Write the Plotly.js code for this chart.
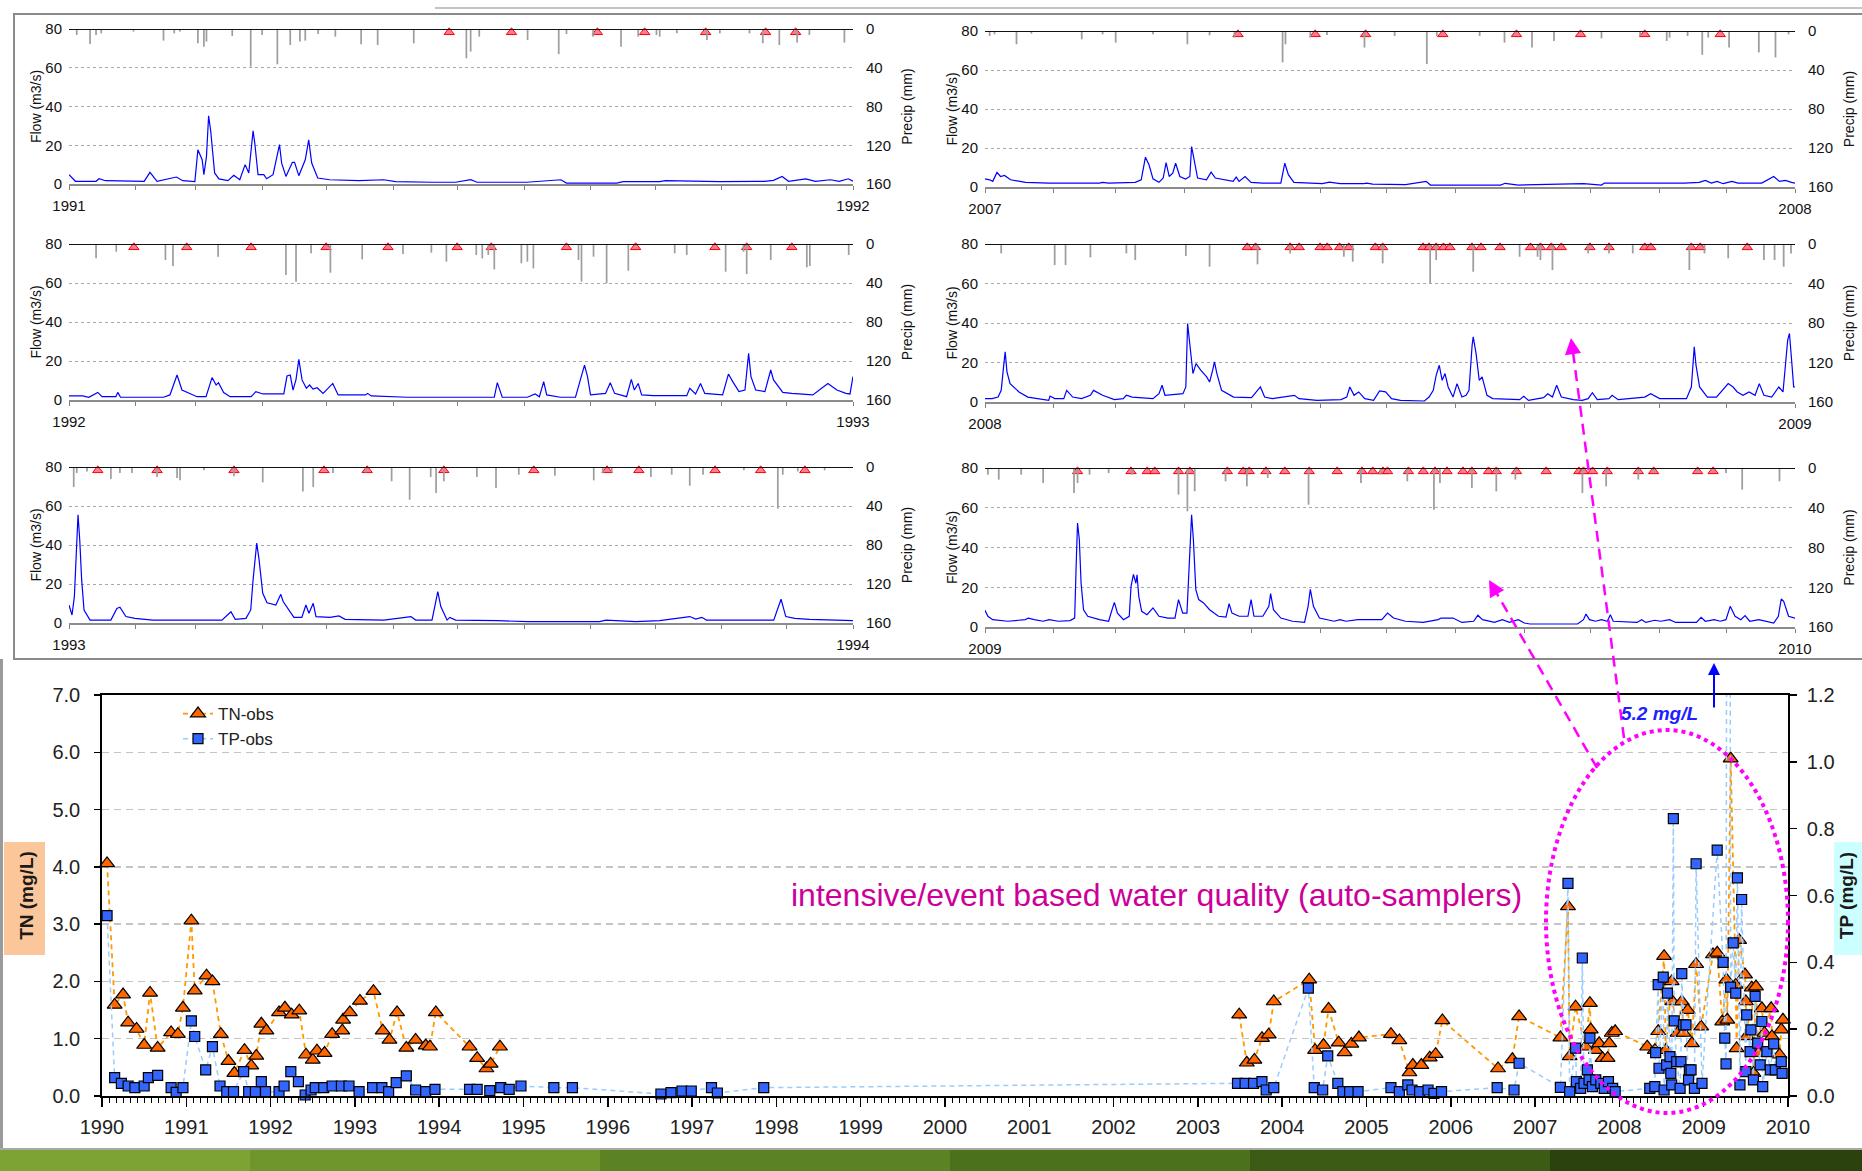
<!DOCTYPE html>
<html><head><meta charset="utf-8">
<script src="https://cdn.plot.ly/plotly-3.0.1.min.js"></script>
<style>html,body{margin:0;padding:0;background:#fff;} #chart{width:1862px;height:1171px;}</style>
</head><body><div id="chart"></div>
<script>
// ---------------- DATA: daily flow / precipitation panels (day of year) ----------------
const monthStarts = [31,59,90,120,151,181,212,243,273,304,334];

const flow1991Day = [0,3,12.6,14,17,35,37.7,41,50,53,58.6,60,62,62.8,64,65,66,67.8,69.8,74,76.7,79.5,82,83.7,85.7,86.5,88,90.7,92,95,98,99,101,104,105,107,110,111.6,113,115.8,121.4,135,146.5,152,169,180,187,190,213,229,231.6,255,258,275,277.7,303,319.6,323.7,328,332,335,343,347.5,354.5,358.6,362.8,365];
const flow1991 = [4.8,1.4,1.4,2.7,1.7,1.4,6.0,1.4,3.6,1.7,1.2,17.7,12.5,4.8,14.2,35.2,27.1,5.7,2.6,1.7,4.5,2.2,10,5.7,27.5,21,4.8,4.8,2.7,4.8,20.3,10.8,3.9,11.2,11.2,4.3,12.5,22.8,10.8,3.1,2.2,1.7,2.2,1.2,0.9,0.9,2.2,0.9,0.9,2.2,0.5,0.5,1.2,1.2,1.7,1.2,1.4,1.4,1.9,3.9,1.4,2.6,1.4,2.2,1.4,2.7,1.4];
const precip1991Day = [3.6,9.8,12.6,15,30,44,49,51.6,60,62.8,64,76,84.6,89.9,97,103,107.5,110,116,124,136,143.7,160.5,185,187,191,213.5,228,231.6,244,257,265,273.5,275,283,297,303,316.8,323,330.7,339,344.7,361];
const precip1991 = [6.2,15.5,6.2,4.5,2.7,12,4.5,2.7,14.8,18.2,13,7.2,38.8,6.2,36.4,16.5,13,12,5.1,7.9,15.8,16.5,14.8,30.2,23.3,7.9,11.3,26,5.1,7.9,18.2,7.9,6.2,7.9,4.5,11.3,4.5,4.5,14.8,16.5,14,6.2,14];
const samples1991 = [177,206,246,268,296.4,324.3,338.3];

const flow1992Day = [0,6.4,9.2,13.4,15.4,21.8,22.7,24,44,47,50.3,52.6,59.6,63.8,66.6,68.5,69.6,72,75,84.8,87,90.3,100,101.5,103,104.3,105.7,107,108.5,110.5,112,113.6,115.5,118.3,122.8,125.3,138,139,140.7,157.5,180,198,199.4,201.7,213.4,217,219,221,222.4,228.8,235.8,240,241.4,242.8,249.8,252,254,259.6,261.8,263.2,265,266.6,272,287.6,289,291.7,294,296,304.3,307,309,311.9,314.7,316.4,317.5,319.7,324,326.7,328,332.3,336.5,346.3,353.3,357.5,361.7,363.6,365];
const flow1992 = [2.1,2.1,1.4,3.9,1.7,1.7,3.9,1.4,1.4,2.6,12.8,5.1,1.7,1.7,11.5,7.7,8.9,3.8,1.7,1.7,4.3,3.1,3.1,12.3,12.8,5.1,10.6,20.8,10.3,6,7.7,5.6,6.3,3.4,8.5,2.6,2.6,3.4,2.1,1.4,1.4,1.4,8.9,1.4,1.4,3.1,1.7,9.4,2.6,1.4,1.4,17.9,12,2.6,3.4,8.9,3.4,1.7,10.6,5.1,8.5,2.6,2.2,2.2,6,3.1,8.5,3.4,2.6,13.3,9.4,4.3,5.1,23.9,12,5.1,4.3,15.4,10.3,3.9,3.4,2.6,8.5,5.1,3.4,3.1,12];
const precip1992Day = [12.6,22,44.9,48.4,54,69.4,101,105.7,112.7,121.7,136.5,155.5,168.7,175.7,189.6,192.4,195.2,198,210.6,213.4,216.2,237.2,238.6,244.2,250.3,260.4,282,287.6,305.7,314,315.5,326.7,343.5,344.9,363];
const precip1992 = [14.7,7.9,16.4,22.6,4.4,13,31.8,38.6,9.6,29.4,15.7,10.3,8.9,18.1,11.3,14.7,11.3,26,19.8,18.1,25,16.4,38.6,13,40.3,27.4,9.6,11.3,28.4,7.9,30.8,16.4,23.9,22.6,11.3];
const samples1992 = [30.2,54.8,84.8,119.7,148.5,180.7,196.6,231.6,263.8,300.7,315.5,336.5];

const flow1993Day = [0,1.4,2.5,3.4,4.2,5,5.9,7,9.8,19.5,22.3,23.7,26.5,30.7,39,60,71.2,75.4,77.4,82.4,84.6,85.7,87.4,88.5,90.2,92.2,96.3,98.6,99.7,104.7,108.4,110.3,111.7,113.7,115,121.5,125.7,128.5,146.6,159.2,161.4,169,171.7,173.1,176,177.3,180,199.7,213.6,247,250,263.9,275,289,291.8,294.6,296.8,328.1,331.5,333.7,337.9,344.9,365];
const flow1993 = [9.2,4.1,13.5,37.5,55.5,42.6,22.1,6.7,1.5,1.5,7.5,8.1,3.3,2.4,1.5,1.5,1.5,5.8,1.9,2.4,6.7,22.1,41,32.4,15.2,10.4,9.2,14.7,11,2.9,2.9,9.2,5,10.1,3.3,2.9,3.6,1.9,1.5,3.3,1.5,1.5,16.1,8.4,1.5,2.9,1.5,1.2,0.7,0.7,1.5,0.7,1.2,3.3,2,2.9,1.5,1.5,12.2,3.3,2.4,1.9,1.2];
const precip1993Day = [2.2,3.6,8.4,19.5,23.7,29.3,41,50.3,51.7,62.8,76.8,90.2,108.9,113.7,122.9,138.2,150.2,158.6,168.4,170.9,174.5,189.9,198.8,209.4,226.2,244.3,248.5,252.7,270.9,280.6,289,295.2,314.2,330,332.3,339.3,351.8];
const precip1993 = [20.6,6.2,4.5,12.3,6.2,6.2,10.3,11.3,13.7,3.4,9.6,15.8,25,20.6,6.2,5.5,14.7,33.6,10.3,26.7,14.7,10.3,21.6,7.9,8.9,13.7,6.2,5.5,10.3,7.9,19.2,7.9,3.4,42.8,7.9,4.5,3.4];
const samples1993 = [13.4,41,76.8,118.7,138.8,174.5,216.4,250.5,265.3,300.8,322,342.6];

const flow2007Day = [0,2.1,3.5,5.4,7,8.8,11.5,14.2,18.2,28.9,51.6,53,55.7,67.7,70.4,72.3,73.9,75.7,78.4,80.3,81.6,83,84.6,85.9,87.8,90.4,92.3,93.1,93.9,95.8,99.8,101.9,103.8,107.8,111.8,113.2,114.5,117.2,119.9,125.2,133.3,135.1,136.7,139.2,146.6,152,155.2,160,170.7,172,174.7,189.5,198.8,200.7,232.3,234.4,240.3,267,269.7,277.8,279.1,315.2,321.9,324.6,327.3,329.9,332.6,336.6,339.3,350,355.4,358,360.7,363.4,365];
const flow2007 = [4.2,3.7,2.9,7.5,5.4,5.9,3.7,3.2,2.4,2,2,2.4,2,2.4,3.7,15.3,11.4,4.2,2.4,4.6,12.5,5.4,7.1,12.2,5.4,4.1,5.4,20.7,15.6,4.6,3.7,7.6,4.6,3.7,2.9,5.1,2.9,5.4,2.4,2,2,12.2,6.3,2.4,2,1.7,2.5,1.7,1.7,2,1.5,1.2,2.9,1,1,1.9,1,1.5,1.7,1,2,2,2.4,3.4,2,2.9,1.7,2.9,2,2,5.4,2.9,3.4,2.4,2];
const precip2007Day = [2.1,4.3,14.2,20.9,43.6,53,58.9,75.7,91.2,101.2,112.4,134.1,135.4,146.6,154.1,171,184.6,199.1,203.6,222.9,234.1,239,246.5,256.4,277.8,295.2,307.2,308.5,316.6,323.2,325.9,335.3,348.7,356.2,362.1];
const precip2007 = [5.1,3.4,13.6,2.7,8.5,3.4,11.9,3.4,13.6,4.4,6.8,32.2,13.6,6.8,4.1,17,5.1,33.9,5.1,5.1,11.9,3.4,17,10.2,7.5,5.1,10.2,6.8,5.1,24.4,6.8,17,22,27.1,3.4];
const samples2007 = [114,148.8,171.5,206.3,239.5,268.4,297.3,331.3];

const flow2008Day = [0,3.2,5.9,7.3,8.6,9.1,9.9,11.3,15.3,19.3,28.7,29.3,31.4,35.5,36.8,39.5,43.5,47.5,48.9,53,58.3,62.3,63.7,66.3,75.7,78.4,79.8,81.1,89.2,90.5,91.3,92.1,93.2,93.7,95.1,97.2,99.9,101.2,102.6,103.4,104.5,106.6,112,120.1,124.1,126,129.5,139.4,141.5,149.6,160.4,163,164.4,166.3,168.4,171.1,175.1,177.8,180.5,183.2,187.2,198,200.1,202,203.3,204.7,206,207.3,208.7,210.9,212.7,214.9,216.8,218.1,219.5,220,221.3,222.7,224,226.2,228.8,240.9,242.8,244.9,251.7,253.6,255.7,257.6,259.7,265.1,269.1,271.8,273.7,275.9,281.2,282.6,285.3,297.3,300,304,316.1,318.3,319.6,320.4,322,325.5,329.6,334.9,337.1,339,341.6,344.3,347,348.9,351,354.5,357.7,359.6,361.7,362.5,363.6,364.4,365];
const flow2008 = [1.7,1.7,2.5,5.9,20.3,25.4,15.2,9.3,5.1,2.5,0.8,3,1.7,1.7,5.9,2.5,1.7,3.4,5.9,3.4,1.2,1.7,3.4,2.5,1.7,4.2,8.5,3.4,4.2,7.6,39.7,31.3,22.8,14.4,19.4,16.1,12.7,10.1,16.1,20.3,14.4,5.9,2.5,2.2,7.6,2.5,1.7,3.4,1.7,0.8,1.2,2.5,7.6,3.4,5.1,1.7,0.8,5.6,5.1,1.7,0.8,0.5,2.5,5.9,13.5,18.6,11,14.4,7.6,2.5,9.3,2.5,3.4,5.9,28.7,33,24.5,11,12.7,3.4,1.7,1.2,2.9,0.8,2.2,4.2,2.5,8.5,2.5,1.2,0.8,1.7,4.7,1.2,1.7,3.4,1.2,2.5,4.2,1.7,1.7,7.6,27.9,18.6,7.6,2.5,2.5,9.3,7.6,5.1,3.4,5.1,3.4,9.3,3.4,2.5,7.6,5.1,31.3,34.7,19.4,7.6,7.6];
const precip2008Day = [7.3,31.4,36.3,47.5,63.7,67.7,90.5,101.2,122.8,137.5,161.7,165.7,179.2,200.6,203.3,220,240.9,249,250.3,255.7,271.8,281.2,291.9,317.4,324.2,334.9,351,355.8,359.9,363.2];
const precip2008 = [9.5,21.3,21.3,13.5,9.5,16.2,12.2,23,20.6,9.5,12.9,17.9,19.6,39.9,16.2,28.1,12.9,12.9,16.2,26.4,9.5,9.5,9.5,26.4,9.5,14.5,16.2,16.2,23,9.5];
const samples2008 = [118.2,121.9,137.5,141.6,151,154.2,159.8,163.9,175.9,179.2,197.4,200.1,203.3,206.6,209.5,219.4,223.5,232.1,245.8,250.3,255.2,259.7,272.6,281.2,297.3,300,318.3,322.3,343.5];

const flow2009Day = [0,1.3,3.5,10.2,18.2,19.5,22.2,26.2,28.9,33,38.3,40.4,41.2,41.7,42.5,43.3,44.4,46.3,51.6,55.7,57.5,58.3,59.7,62.4,65,65.8,66.9,68,68.5,69.3,70.6,73,75.7,78.4,82.4,85.6,87.2,88,89.1,91,92.3,93.1,93.9,95,96.3,98.5,101.2,105.2,108.6,110,111.3,114.5,118.5,119.9,121.2,125.2,127.9,128.7,130,133.3,138.6,144,145.6,146.6,148,150.7,157.3,160,162.7,168,173.4,178.8,181.4,184.1,189.5,197.5,204.2,205.5,210.9,214.9,220.2,222.1,224.2,229.6,233.1,236.3,240.3,243,245.6,267,269.7,270.8,272.4,275.1,277.8,280.4,281.8,283.1,293.8,295.9,297.8,301.8,304.5,308.5,311.2,320.6,322.7,324.6,328.6,331.3,333.9,335.8,338,340.6,342.5,344.6,348.7,352.7,355.4,357.5,358.8,359.9,362.1,365];
const flow2009 = [8.4,5.4,3.7,2.9,3.7,4.5,3.7,2.9,3.7,2.9,3.2,4.5,35.6,52.3,44,22,8.7,5.4,3.7,2.9,9.6,12.4,7,3.7,5.4,20.5,26.5,22,26.3,15.4,7.9,6.2,9.6,5.4,4.5,4.5,13.8,11.2,7,7,35.6,56.5,44,18.8,13.8,12.1,8.7,5.4,5,11.7,7,5.4,5.4,13.8,5.4,5.4,10.4,16.8,8.7,4.5,2.9,2.3,10.4,19,10.4,4.5,2.9,3.7,2.9,3.7,3.7,3.7,7,4.5,2.9,2.3,3.7,4.5,4.5,2.3,2.9,5.9,3.7,2.3,3.7,2.3,3.7,2,1.5,1.5,3.7,6.5,3.7,2.9,3.7,2.9,6.2,2.9,2.3,3.7,2.3,3.4,2.9,3.7,2.3,2.3,4.9,2.9,3.7,2.9,3.7,10.4,5.4,3.7,5.7,2.9,3.7,2.9,2,5.4,14.1,12.9,5.4,4.5];
const precip2009Day = [1.3,6.2,16.3,26.2,40.1,41.7,47.1,55.7,66.4,87.2,91.2,94.5,108.4,118,127.4,145.8,169.4,178.2,190.3,202.3,205,219.4,230.4,239,269.2,279.9,294.4,301.3,321.1,333.9,341.2,358];
const precip2009 = [6.7,11.7,6.7,15.1,25.2,15.1,6.7,5,6.7,26.8,43.6,23.5,13.4,18.4,10,36.9,15.1,6.7,13.4,41.9,15.1,20.1,23.5,11.7,25.2,18.4,11.7,5,5,5,21.8,13.4];
const samples2009 = [41.7,65.8,73.1,76.5,87.2,92.3,109.2,116.4,119.1,126.6,135.1,146.1,158.7,169.9,174.7,179.3,181.4,190.8,197.5,202.8,208.2,215.4,219.4,226.9,230.4,239.5,252.9,267.6,269.7,273.8,280.4,294.4,301.3,321.1,328.1];

// ---------------- DATA: water quality observations (decimal year) ----------------
const tnYear = [1990.06,1990.15,1990.25,1990.31,1990.41,1990.50,1990.57,1990.66,1990.82,1990.90,1990.96,1991.06,1991.10,1991.24,1991.31,1991.41,1991.50,1991.57,1991.69,1991.77,1991.83,1991.89,1991.95,1992.10,1992.17,1992.25,1992.34,1992.42,1992.50,1992.55,1992.64,1992.73,1992.85,1992.86,1992.94,1993.06,1993.22,1993.33,1993.41,1993.50,1993.61,1993.72,1993.84,1993.89,1993.96,1994.36,1994.45,1994.56,1994.61,1994.72,
  1999.0,
  2003.49,2003.58,2003.67,2003.76,2003.84,2003.90,2004.32,2004.39,2004.49,2004.55,2004.67,2004.74,2004.82,2004.91,2005.29,2005.39,2005.51,2005.55,2005.65,2005.75,2005.82,2005.90,2006.56,2006.73,2006.81,
  2007.30,2007.39,2007.41,2007.48,2007.60,2007.65,2007.66,2007.72,2007.76,2007.80,2007.86,2007.88,2007.91,2007.95,
  2008.33,2008.42,2008.46,2008.53,2008.55,2008.62,2008.63,2008.69,2008.74,2008.76,2008.81,2008.86,2008.91,2008.97,
  2009.11,2009.16,2009.22,2009.27,2009.28,2009.32,2009.38,2009.39,2009.42,2009.49,2009.50,2009.51,2009.57,2009.59,2009.62,2009.65,2009.69,2009.72,2009.80,2009.81,2009.90,2009.92,2009.94];
const tnValue = [4.06,1.59,1.77,1.28,1.17,0.89,1.80,0.84,1.11,1.08,1.54,3.06,1.84,2.10,2.00,1.08,0.61,0.40,0.80,0.53,0.70,1.26,1.14,1.46,1.54,1.42,1.49,0.72,0.63,0.79,0.75,1.08,1.14,1.33,1.46,1.66,1.83,1.14,0.98,1.46,0.84,0.98,0.88,0.86,1.46,0.86,0.66,0.48,0.56,0.86,
  null,
  1.42,0.58,0.63,1.01,1.07,1.65,2.03,0.80,0.89,1.52,0.93,0.76,0.91,1.02,1.08,0.97,0.41,0.54,0.54,0.67,0.73,1.32,0.48,0.64,1.39,
  1.02,3.31,0.69,1.56,0.86,1.62,1.16,0.80,0.92,0.66,0.66,0.92,1.10,1.13,
  0.86,0.80,1.13,2.44,0.80,2.00,1.65,1.10,1.65,1.10,1.50,0.92,2.30,1.21,
  2.47,2.50,1.30,2.03,1.33,5.89,1.94,0.83,2.72,2.12,1.65,1.04,1.89,0.40,1.91,0.75,1.53,1.10,1.53,1.04,0.72,1.16,1.33];

const tpYear = [1990.06,1990.15,1990.23,1990.31,1990.39,1990.50,1990.55,1990.66,1990.82,1990.88,1990.96,1991.06,1991.10,1991.23,1991.31,1991.40,1991.48,1991.56,1991.68,1991.74,1991.82,1991.89,1991.94,1992.10,1992.16,1992.24,1992.33,1992.41,1992.48,1992.53,1992.63,1992.73,1992.84,1992.93,1993.05,1993.21,1993.32,1993.40,1993.49,1993.61,1993.72,1993.84,1993.95,1994.36,1994.45,1994.60,1994.73,1994.83,1994.97,1995.36,1995.58,1996.63,1996.75,1996.88,1996.99,1997.23,1997.30,1997.85,
  2003.47,2003.56,2003.66,2003.76,2003.81,2003.90,2004.31,2004.38,2004.48,2004.54,2004.66,2004.72,2004.80,2004.90,2005.29,2005.39,2005.49,2005.54,2005.63,2005.73,2005.80,2005.89,2006.55,2006.75,2006.81,
  2007.30,2007.39,2007.41,2007.48,2007.49,2007.54,2007.56,2007.58,2007.62,2007.64,2007.65,2007.68,2007.72,2007.78,2007.82,2007.87,2007.92,2007.95,
  2008.36,2008.42,2008.43,2008.46,2008.47,2008.52,2008.53,2008.56,2008.57,2008.60,2008.61,2008.62,2008.64,2008.65,2008.68,2008.72,2008.73,2008.74,2008.76,2008.79,2008.82,2008.83,2008.85,2008.89,2008.91,2008.98,
  2009.16,2009.23,2009.25,2009.265,2009.29,2009.32,2009.35,2009.38,2009.40,2009.43,2009.45,2009.50,2009.51,2009.55,2009.56,2009.59,2009.61,2009.64,2009.67,2009.69,2009.70,2009.75,2009.79,2009.83,2009.85,2009.92,2009.93];
const tpValue = [0.54,0.055,0.038,0.030,0.025,0.030,0.055,0.062,0.025,0.011,0.025,0.225,0.178,0.078,0.148,0.030,0.013,0.013,0.073,0.013,0.013,0.043,0.013,0.013,0.030,0.073,0.043,0.003,0.018,0.025,0.025,0.030,0.030,0.030,0.013,0.025,0.025,0.013,0.040,0.060,0.018,0.013,0.020,0.020,0.020,0.016,0.025,0.020,0.030,0.025,0.025,0.006,0.010,0.015,0.015,0.025,0.009,0.025,
  0.038,0.038,0.038,0.043,0.018,0.025,0.323,0.025,0.018,0.120,0.038,0.013,0.013,0.013,0.025,0.013,0.033,0.018,0.013,0.018,0.008,0.013,0.025,0.018,0.098,
  0.026,0.636,0.013,0.143,0.043,0.023,0.413,0.038,0.078,0.048,0.173,0.028,0.048,0.038,0.023,0.043,0.023,0.013,
  0.023,0.028,0.130,0.333,0.083,0.356,0.018,0.093,0.308,0.118,0.068,0.033,0.830,0.225,0.103,0.023,0.103,0.366,0.213,0.213,0.048,0.078,0.078,0.023,0.695,0.038,
  0.736,0.400,0.173,0.096,5.2,0.326,0.458,0.308,0.653,0.033,0.588,0.073,0.243,0.133,0.198,0.048,0.298,0.158,0.093,0.223,0.028,0.133,0.078,0.156,0.078,0.103,0.068];

const yearTicks = [1990,1991,1992,1993,1994,1995,1996,1997,1998,1999,2000,2001,2002,2003,2004,2005,2006,2007,2008,2009,2010];

// ---------------- LAYOUT ----------------
const FONT = 'Liberation Sans, Arial, sans-serif';
const W = 1862, H = 1171;
const px = v => v / W;
const py = v => 1 - v / H;
const SAMPLE_MARK_Y = 78.3;

const panels = [
  {day: flow1991Day, q: flow1991, pday: precip1991Day, p: precip1991, s: samples1991, a: '1991', b: '1992', xd: [69,853], yd: [29,184]},
  {day: flow1992Day, q: flow1992, pday: precip1992Day, p: precip1992, s: samples1992, a: '1992', b: '1993', xd: [69,853], yd: [244,400]},
  {day: flow1993Day, q: flow1993, pday: precip1993Day, p: precip1993, s: samples1993, a: '1993', b: '1994', xd: [69,853], yd: [467,623]},
  {day: flow2007Day, q: flow2007, pday: precip2007Day, p: precip2007, s: samples2007, a: '2007', b: '2008', xd: [985,1795], yd: [31,187]},
  {day: flow2008Day, q: flow2008, pday: precip2008Day, p: precip2008, s: samples2008, a: '2008', b: '2009', xd: [985,1795], yd: [244,402]},
  {day: flow2009Day, q: flow2009, pday: precip2009Day, p: precip2009, s: samples2009, a: '2009', b: '2010', xd: [985,1795], yd: [468,627]}
];

const sfx = n => (n === 1 ? '' : String(n));
const traces = [];
const layout = {
  width: W, height: H,
  margin: {l: 0, r: 0, t: 0, b: 0, pad: 0},
  paper_bgcolor: '#ffffff', plot_bgcolor: 'rgba(0,0,0,0)',
  font: {family: FONT, color: '#111', size: 13},
  showlegend: true,
  legend: {x: px(178), y: py(696), xanchor: 'left', yanchor: 'top', bgcolor: 'rgba(0,0,0,0)',
           font: {family: FONT, size: 17, color: '#222'}, tracegroupgap: 0, itemwidth: 30},
  shapes: [], annotations: []
};

// frames / decoration
layout.shapes.push(
  {type: 'line', xref: 'paper', yref: 'paper', x0: px(435), x1: 1.01, y0: py(8), y1: py(8), line: {color: '#B0B0B0', width: 1.5}, layer: 'below'},
  {type: 'rect', xref: 'paper', yref: 'paper', x0: px(14), x1: 1.01, y0: py(659), y1: py(14), line: {color: '#8A8A8A', width: 2}, layer: 'below'},
  {type: 'line', xref: 'paper', yref: 'paper', x0: px(1.5), x1: px(1.5), y0: py(659), y1: py(1149), line: {color: '#9A9A9A', width: 3}, layer: 'below'},
  {type: 'line', xref: 'paper', yref: 'paper', x0: 0, x1: 1, y0: py(1149), y1: py(1149), line: {color: '#A8A8A8', width: 2}, layer: 'below'},
  {type: 'rect', xref: 'paper', yref: 'paper', x0: 0, x1: px(250), y0: 0, y1: py(1150), fillcolor: '#7DA335', line: {width: 0}, layer: 'below'},
  {type: 'rect', xref: 'paper', yref: 'paper', x0: px(250), x1: px(600), y0: 0, y1: py(1150), fillcolor: '#6E962C', line: {width: 0}, layer: 'below'},
  {type: 'rect', xref: 'paper', yref: 'paper', x0: px(600), x1: px(950), y0: 0, y1: py(1150), fillcolor: '#5B8323', line: {width: 0}, layer: 'below'},
  {type: 'rect', xref: 'paper', yref: 'paper', x0: px(950), x1: px(1250), y0: 0, y1: py(1150), fillcolor: '#4C711C', line: {width: 0}, layer: 'below'},
  {type: 'rect', xref: 'paper', yref: 'paper', x0: px(1250), x1: px(1550), y0: 0, y1: py(1150), fillcolor: '#3C5C15', line: {width: 0}, layer: 'below'},
  {type: 'rect', xref: 'paper', yref: 'paper', x0: px(1550), x1: 1, y0: 0, y1: py(1150), fillcolor: '#2B420D', line: {width: 0}, layer: 'below'},
  {type: 'rect', xref: 'paper', yref: 'paper', x0: px(4), x1: px(45), y0: py(955), y1: py(842), fillcolor: '#FBC79A', line: {width: 0}, layer: 'below'},
  {type: 'rect', xref: 'paper', yref: 'paper', x0: px(1834), x1: 1, y0: py(955), y1: py(842), fillcolor: '#CCFFFF', line: {width: 0}, layer: 'below'}
);

panels.forEach((pn, i) => {
  const xi = i + 1, fy = 2 * i + 1, pyi = 2 * i + 2;
  const xs = sfx(xi), fys = sfx(fy), pys = sfx(pyi);
  const xdom = [px(pn.xd[0]), px(pn.xd[1])];
  const ydom = [py(pn.yd[1]), py(pn.yd[0])];
  layout['xaxis' + xs] = {
    domain: xdom, anchor: 'y' + fys, range: [0, 365], fixedrange: true,
    tickmode: 'array', tickvals: [0, 365], ticktext: [pn.a, pn.b],
    ticks: 'outside', ticklen: 4, tickcolor: '#808080', ticklabelstandoff: 3,
    showline: true, linecolor: '#8C8C8C', linewidth: 1.5, showgrid: false, zeroline: false,
    minor: {tickmode: 'array', tickvals: monthStarts, ticks: 'outside', ticklen: 4, tickcolor: '#808080', showgrid: false},
    tickfont: {family: FONT, size: 15, color: '#111'}
  };
  layout['yaxis' + fys] = {
    domain: ydom, anchor: 'x' + xs, range: [0, 80], fixedrange: true,
    tickmode: 'array', tickvals: [0, 20, 40, 60, 80], ticks: '', ticklabelstandoff: 6,
    showgrid: true, gridcolor: '#A8A8A8', griddash: '3px,3px', gridwidth: 1, zeroline: false, showline: false,
    tickfont: {family: FONT, size: 15, color: '#111'},
    title: {text: 'Flow (m3/s)', font: {family: FONT, size: 14, color: '#111'}, standoff: 0}
  };
  layout['yaxis' + pys] = {
    anchor: 'x' + xs, overlaying: 'y' + fys, side: 'right', range: [160, 0], fixedrange: true,
    tickmode: 'array', tickvals: [0, 40, 80, 120, 160], ticks: '', ticklabelstandoff: 12,
    showgrid: false, zeroline: false, showline: false,
    tickfont: {family: FONT, size: 15, color: '#111'},
    title: {text: 'Precip (mm)', font: {family: FONT, size: 14, color: '#111'}, standoff: 12}
  };
  layout.shapes.push({type: 'line', xref: 'x' + xs + ' domain', x0: 0, x1: 1, yref: 'y' + fys, y0: 80, y1: 80,
                      line: {color: '#111', width: 2}});
  traces.push({type: 'scatter', mode: 'lines', x: pn.day, y: pn.q, xaxis: 'x' + xs, yaxis: 'y' + fys,
               line: {color: '#0000FF', width: 1.2}, showlegend: false, hoverinfo: 'skip'});
  traces.push({type: 'bar', x: pn.pday, y: pn.p, xaxis: 'x' + xs, yaxis: 'y' + pys, width: 0.8,
               marker: {color: '#9E9E9E', line: {width: 0}}, showlegend: false, hoverinfo: 'skip'});
  traces.push({type: 'scatter', mode: 'markers', x: pn.s, y: pn.s.map(() => SAMPLE_MARK_Y), xaxis: 'x' + xs, yaxis: 'y' + fys,
               marker: {symbol: 'triangle-up', size: 9, color: '#FF7A96', line: {color: '#FF0000', width: 1}},
               cliponaxis: false, showlegend: false, hoverinfo: 'skip'});
});

// bottom water-quality chart
layout.xaxis7 = {
  domain: [px(102), px(1788)], anchor: 'y13', range: [1990, 2010], fixedrange: true,
  tickmode: 'array', tickvals: yearTicks, tickformat: 'd',
  ticks: 'outside', ticklen: 9, tickwidth: 1.5, tickcolor: '#000', ticklabelstandoff: 3,
  showline: true, linecolor: '#000', linewidth: 1.8, mirror: true, showgrid: false, zeroline: false,
  minor: {tick0: 1990, dtick: 1 / 12, ticks: 'outside', ticklen: 5, tickwidth: 1, tickcolor: '#000', showgrid: false},
  tickfont: {family: FONT, size: 20, color: '#222'}
};
layout.yaxis13 = {
  domain: [py(1096), py(695)], anchor: 'x7', range: [0, 7], fixedrange: true,
  dtick: 1, tick0: 0, tickformat: '.1f', ticks: 'outside', ticklen: 6, tickwidth: 1.5, tickcolor: '#000', ticklabelstandoff: 10,
  showline: true, linecolor: '#000', linewidth: 1.8, zeroline: false,
  showgrid: true, gridcolor: '#C4C4C4', griddash: '7px,5px', gridwidth: 1.5,
  tickfont: {family: FONT, size: 20, color: '#222'},
  title: {text: '<b>TN (mg/L)</b>', font: {family: FONT, size: 19, color: '#1a1a1a'}, standoff: 14}
};
layout.yaxis14 = {
  anchor: 'x7', overlaying: 'y13', side: 'right', range: [0, 1.2], fixedrange: true,
  dtick: 0.2, tick0: 0, tickformat: '.1f', ticks: 'outside', ticklen: 7, tickwidth: 1.5, tickcolor: '#000', ticklabelstandoff: 6,
  showline: true, linecolor: '#000', linewidth: 1.8, zeroline: false, showgrid: false,
  tickfont: {family: FONT, size: 20, color: '#222'},
  title: {text: '<b>TP (mg/L)</b>', font: {family: FONT, size: 19, color: '#1a1a1a'}, standoff: 6}
};

traces.push({
  type: 'scatter', mode: 'lines+markers', name: 'TN-obs', x: tnYear, y: tnValue, xaxis: 'x7', yaxis: 'y13',
  connectgaps: false, cliponaxis: false,
  line: {color: '#FF9900', width: 1.8, dash: '5px,4px'},
  marker: {symbol: 'triangle-up', size: 13, color: '#FF6600', line: {color: '#000', width: 1.2}}
});
traces.push({
  type: 'scatter', mode: 'lines+markers', name: 'TP-obs', x: tpYear, y: tpValue, xaxis: 'x7', yaxis: 'y14',
  cliponaxis: false,
  line: {color: '#99CCFF', width: 1.5, dash: '5px,4px'},
  marker: {symbol: 'square', size: 10, color: '#3366FF', line: {color: '#000', width: 1.2}}
});

// annotation overlays
const MAG = '#FF00FF';
layout.shapes.push(
  {type: 'circle', xref: 'paper', yref: 'paper', x0: px(1546), x1: px(1788), y0: py(1113), y1: py(730), line: {color: MAG, width: 4, dash: 'dot'}},
  {type: 'line', xref: 'paper', yref: 'paper', x0: px(1597), y0: py(768), x1: px(1496), y1: py(592), line: {color: MAG, width: 2.5, dash: '11px,7px'}},
  {type: 'line', xref: 'paper', yref: 'paper', x0: px(1624), y0: py(738), x1: px(1573), y1: py(352), line: {color: MAG, width: 2.5, dash: '11px,7px'}}
);
layout.annotations.push(
  {xref: 'paper', yref: 'paper', x: px(1156), y: py(895), text: 'intensive/event based water quality (auto-samplers)', showarrow: false,
   xanchor: 'center', yanchor: 'middle', font: {family: FONT, size: 32, color: '#CC0099'}},
  {xref: 'paper', yref: 'paper', x: px(1659), y: py(713), text: '<b><i>5.2 mg/L</i></b>', showarrow: false,
   xanchor: 'center', yanchor: 'middle', font: {family: FONT, size: 19, color: '#1E1EFF'}},
  {xref: 'paper', yref: 'paper', x: px(1714), y: py(663), text: '', showarrow: true, ax: 0, ay: 46,
   arrowcolor: '#0000FF', arrowwidth: 2, arrowhead: 2, arrowsize: 1.2},
  {xref: 'paper', yref: 'paper', x: px(1489), y: py(580), text: '', showarrow: true, ax: 8, ay: 14,
   arrowcolor: MAG, arrowwidth: 2.5, arrowhead: 2, arrowsize: 1.3},
  {xref: 'paper', yref: 'paper', x: px(1571), y: py(338), text: '', showarrow: true, ax: 2, ay: 16,
   arrowcolor: MAG, arrowwidth: 2.5, arrowhead: 2, arrowsize: 1.3}
);

Plotly.newPlot('chart', traces, layout, {displayModeBar: false, staticPlot: true});
</script></body></html>
